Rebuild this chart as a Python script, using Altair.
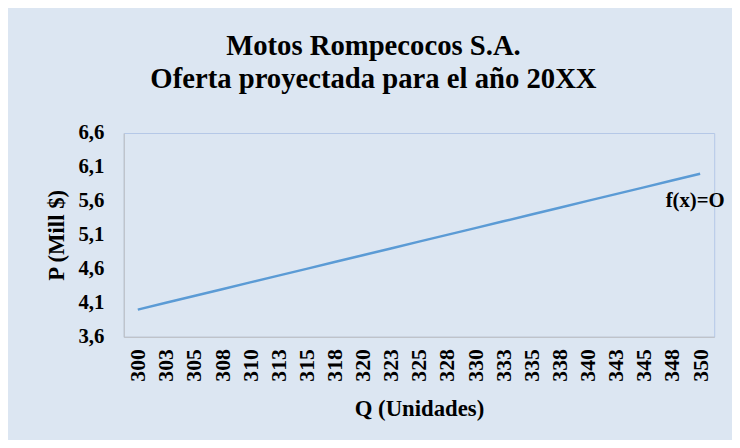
import altair as alt
import pandas as pd

q_labels = ["300", "303", "305", "308", "310", "313", "315", "318", "320", "323", "325",
            "328", "330", "333", "335", "338", "340", "343", "345", "348", "350"]
p_values = [4.0, 4.1, 4.2, 4.3, 4.4, 4.5, 4.6, 4.7, 4.8, 4.9, 5.0,
            5.1, 5.2, 5.3, 5.4, 5.5, 5.6, 5.7, 5.8, 5.9, 6.0]
y_ticks = [3.6, 4.1, 4.6, 5.1, 5.6, 6.1, 6.6]
series_label = "f(x)=O"
title_lines = ["Motos Rompecocos S.A.", "Oferta proyectada para  el año 20XX"]

df = pd.DataFrame({"Q": q_labels, "P": p_values})
lab = pd.DataFrame({"Q": [q_labels[-1]], "P": [5.6], "t": [series_label]})

FONT = "Times New Roman, Liberation Serif, Tinos, DejaVu Serif, serif"

x_enc = alt.X("Q:O", sort=q_labels,
              scale=alt.Scale(paddingInner=0, paddingOuter=0.5),
              axis=alt.Axis(title="Q (Unidades)", labelAngle=-90, labelPadding=12,
                            ticks=False, titlePadding=17, labelOverlap=False))
y_enc = alt.Y("P:Q", scale=alt.Scale(domain=[3.6, 6.6], nice=False, zero=False),
              axis=alt.Axis(title="P (Mill  $)", values=y_ticks, grid=False, ticks=False,
                            labelPadding=20, titlePadding=10, labelOverlap=False,
                            labelExpr="replace(format(datum.value, '.1f'), '.', ',')"))

line = alt.Chart(df).mark_line(color="#5b9bd5", strokeWidth=2.5).encode(x=x_enc, y=y_enc)

text = alt.Chart(lab).mark_text(font=FONT, fontWeight="bold", fontSize=21, color="black",
                                align="center", dx=-5, baseline="middle").encode(
    x=x_enc, y=y_enc, text="t:N")

chart = (line + text).properties(
    width=597, height=206,
    background="#dce6f2",
    padding={"left": 117, "top": 124, "right": 18, "bottom": 102},
    autosize=alt.AutoSizeParams(type="none"),
    title=alt.TitleParams(text=title_lines, font=FONT, fontSize=29, fontWeight="bold",
                          color="black", anchor="middle", dx=-46, offset=28, lineHeight=34),
).configure_view(stroke="#b4c7e7", strokeWidth=1).configure_axis(
    labelFont=FONT, titleFont=FONT, labelFontSize=21, titleFontSize=23,
    labelFontWeight="bold", titleFontWeight="bold", labelColor="black", titleColor="black",
    domainColor="#bfbfbf", domainWidth=1, labelOverlap=False,
).configure_axisX(labelFontSize=22)

chart.save("out.html", embed_options={"renderer": "svg", "actions": False})
